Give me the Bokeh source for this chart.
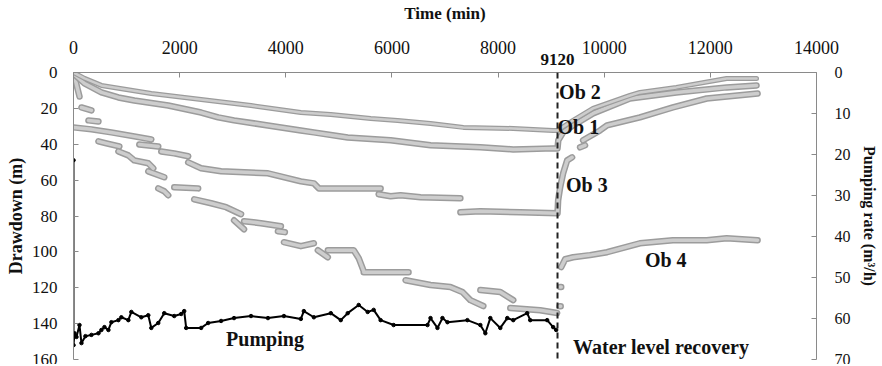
import numpy as np
from bokeh.plotting import figure
from bokeh.models import Range1d, LinearAxis, FixedTicker, Span, Label
from bokeh.embed import file_html
from bokeh.resources import INLINE

nan = float("nan")

# ---------------- data (time in min, drawdown in m, rate in m3/h) ----------------
ob2_t = [0, 207, 526, 1466, 2405, 3345, 4284, 4848, 5600, 6107, 6727, 7347, 8286, 9038, 9120,
         9414, 9790, 10485, 10673, 11358, 12307, 12870]
ob2_d = [0, 3.3, 7.2, 11.7, 15.0, 18.4, 22.3, 23.4, 25.6, 26.7, 28.4, 30.6, 31.2, 32.3, 32.3,
         26.7, 20.0, 12.8, 11.1, 8.3, 3.3, 3.3]

ob1_t = [0, 207, 526, 846, 1146, 1785, 2405, 2725, 3025, 3664, 4284, 4529, 5167, 5975, 6727,
         7666, 8286, 9038, 9120, 9135, 9226, 9414, 9790, 10485, 11358, 12307, 12870]
ob1_d = [0.6, 6.1, 11.1, 13.9, 15.6, 18.4, 22.3, 25.0, 26.7, 29.5, 32.3, 33.4, 36.2, 37.8, 40.6,
         41.7, 42.9, 42.3, 42.3, 37.8, 33.4, 29.5, 22.8, 14.5, 11.1, 8.3, 7.2]

ob3_t = [0, 338, 714, 1146, 1466, nan,
         1240, 1597, nan,
         1654, 1898, 2161, nan,
         2161, 2405, 2781, 3664, 4284, 4529, 4623, 5787, nan,
         5750, 5975, 6163, 6539, 7290, nan,
         7290, 7666, 8418, 9120, 9132, 9170, 9226, 9301, 9395, nan,
         9545, 9639, nan,
         9602, 9921, 10053, 10673, 11293, 11932, 12890]
ob3_d = [30.6, 31.7, 33.4, 35.6, 37.3, nan,
         40.1, 41.2, nan,
         44.0, 45.1, 46.7, nan,
         50.1, 53.4, 55.1, 56.2, 60.7, 61.8, 64.6, 64.6, nan,
         67.9, 69.0, 68.4, 69.6, 70.1, nan,
         77.9, 77.4, 77.9, 78.5, 71.2, 64.0, 56.2, 49.0, 47.3, nan,
         41.7, 40.6, nan,
         37.8, 32.3, 29.5, 25.0, 19.5, 14.5, 11.7]

ob4_t = [0, 38, 75, 113, nan,
         150, 338, nan,
         282, 470, nan,
         470, 620, 864, nan,
         846, 1033, 1146, 1409, 1503, nan,
         1409, 1710, nan,
         1597, 1710, 1785, nan,
         1898, 2349, nan,
         2274, 2593, 2875, 3157, nan,
         3025, 3213, nan,
         3213, 3532, 3908, nan,
         3852, 3983, nan,
         3965, 4284, 4529, nan,
         4604, 4792, nan,
         4792, 5280, 5374, 5468, nan,
         5468, 6313, nan,
         6257, 6727, 7102, 7328, 7478, 7722, nan,
         7666, 8042, 8286, nan,
         8230, 8794, 9113, nan,
         9160, 9180, nan,
         9170, 9190, nan,
         9190, 9264, 9414, 9733, 10053, 10673, 11293, 11932, 12307, 12890]
ob4_d = [0.6, 4.5, 8.9, 13.4, nan,
         19.5, 21.1, nan,
         26.7, 27.3, nan,
         38.4, 39.5, 41.2, nan,
         44.0, 46.2, 49.0, 50.6, 53.4, nan,
         55.1, 58.4, nan,
         64.6, 66.2, 68.4, nan,
         64.0, 64.6, nan,
         70.7, 72.9, 75.1, 79.0, nan,
         82.4, 87.4, nan,
         82.9, 84.0, 85.7, nan,
         88.5, 89.0, nan,
         94.6, 96.8, 95.2, nan,
         99.1, 103.0, nan,
         99.1, 99.1, 103.5, 110.7, nan,
         111.3, 111.3, nan,
         115.8, 118.5, 119.6, 122.4, 126.9, 130.2, nan,
         121.3, 122.4, 126.9, nan,
         131.3, 132.5, 134.1, nan,
         130.3, 130.3, nan,
         119.6, 119.6, nan,
         108.5, 104.1, 103.0, 101.8, 100.2, 95.2, 93.5, 93.5, 92.4, 93.5]

pump_t = [0, 0, 19, 56, 113, 150, 225, 338, 470, 526, 583, 658, 714, 846, 902, 1033, 1090,
          1278, 1409, 1466, 1597, 1710, 1898, 2029, 2086, 2123, 2405, 2537, 2781, 3025, 3345,
          3664, 3965, 4284, 4340, 4529, 4848, 5036, 5167, 5374, 5543, 5656, 5787, 6032, 6670,
          6727, 6858, 6952, 7046, 7422, 7666, 7760, 7854, 8042, 8174, 8286, 8549, 8606, 8925,
          9038, 9095]
pump_r = [21.4, 66.5, 63.6, 64.5, 61.6, 66.0, 64.3, 64.0, 63.6, 62.8, 62.1, 62.8, 60.9, 60.4,
          59.7, 60.4, 58.4, 59.7, 59.2, 62.3, 61.1, 58.7, 59.4, 58.9, 58.2, 62.3, 62.3, 61.1,
          60.6, 59.9, 59.4, 59.9, 59.4, 60.1, 58.2, 59.7, 58.7, 60.4, 58.7, 56.7, 58.4, 57.9,
          60.4, 61.6, 61.6, 59.9, 62.3, 59.9, 60.9, 60.4, 61.6, 63.6, 59.9, 62.3, 59.9, 60.4,
          58.7, 60.4, 60.4, 62.1, 62.8]

time_ticks = [0, 2000, 4000, 6000, 8000, 10000, 12000, 14000]
drawdown_ticks = [0, 20, 40, 60, 80, 100, 120, 140, 160]
rate_ticks = [0, 10, 20, 30, 40, 50, 60, 70]
stop_time = 9120

label_texts = ["Ob 2", "Ob 1", "Ob 3", "Ob 4", "Pumping", "Water level recovery"]
label_t = [9150, 9120, 9280, 10767, 2875, 9414]
label_d = [11.1, 30.6, 62.9, 104.6, 148.6, 153.0]

# ---------------- figure ----------------
FONT = "Liberation Serif"
AX = "#8a8a8a"
TXT = "#111111"

p = figure(width=880, height=364, output_backend="svg", toolbar_location=None,
           x_range=Range1d(0, 14000), y_range=Range1d(160, 0),
           x_axis_location=None, y_axis_location=None,
           min_border_left=73, min_border_top=72, min_border_right=63, min_border_bottom=5)
p.outline_line_color = None
p.xgrid.visible = False
p.ygrid.visible = False
p.extra_y_ranges = {"rate": Range1d(70, 0)}


def style(ax, tick_size, label_size):
    ax.axis_line_color = AX
    ax.major_tick_line_color = AX
    ax.minor_tick_line_color = None
    ax.major_tick_in = 5
    ax.major_tick_out = 0
    ax.major_label_text_font = FONT
    ax.major_label_text_color = TXT
    ax.major_label_text_font_size = tick_size
    ax.axis_label_text_font = FONT
    ax.axis_label_text_font_style = "bold"
    ax.axis_label_text_color = TXT
    ax.axis_label_text_font_size = label_size


# inner top axis: axis line, inward ticks and the "9120" marker label
inner_x = LinearAxis(ticker=FixedTicker(ticks=time_ticks + [stop_time]))
style(inner_x, "17px", "16px")
inner_x.major_label_overrides = {**{t: "" for t in time_ticks}, stop_time: str(stop_time)}
inner_x.major_label_text_font_style = "bold"
inner_x.major_label_standoff = 8
p.add_layout(inner_x, "above")

# outer top axis: the time tick labels and the title
outer_x = LinearAxis(ticker=FixedTicker(ticks=time_ticks), axis_label="Time (min)")
style(outer_x, "18px", "17px")
outer_x.axis_line_color = None
outer_x.major_tick_line_color = None
outer_x.major_label_standoff = -3
outer_x.axis_label_standoff = 15
p.add_layout(outer_x, "above")

ya = LinearAxis(ticker=FixedTicker(ticks=drawdown_ticks), axis_label="Drawdown (m)")
style(ya, "17px", "18px")
ya.major_label_standoff = 16
ya.axis_label_standoff = 3
p.add_layout(ya, "left")

ra = LinearAxis(y_range_name="rate", ticker=FixedTicker(ticks=rate_ticks),
                axis_label="Pumping rate (m³/h)")
style(ra, "16px", "16px")
ra.major_label_standoff = 18
ra.axis_label_standoff = 7
p.add_layout(ra, "right")


def gray_series(t, d, w_out=6.5, w_in=3.5):
    p.line(t, d, line_color="#9c9c9c", line_width=w_out, line_cap="round", line_join="round")
    p.line(t, d, line_color="#cdcdcd", line_width=w_in, line_cap="round", line_join="round")


gray_series(ob4_t, ob4_d)
gray_series(ob3_t, ob3_d)
gray_series(ob1_t, ob1_d)
gray_series(ob2_t, ob2_d, 5, 2.5)

p.line(pump_t, pump_r, y_range_name="rate", line_color="black", line_width=2)
p.scatter(pump_t, pump_r, y_range_name="rate", size=3.5, color="black")

p.add_layout(Span(location=stop_time, dimension="height", line_color="#222222",
                  line_width=2, line_dash="6 4"))

for txt, tx, dy in zip(label_texts, label_t, label_d):
    p.add_layout(Label(x=tx, y=dy, text=txt, text_font=FONT, text_font_style="bold",
                       text_font_size="20px", text_baseline="middle", text_align="left",
                       text_color=TXT))

open("out.html", "w").write(file_html(p, INLINE))
